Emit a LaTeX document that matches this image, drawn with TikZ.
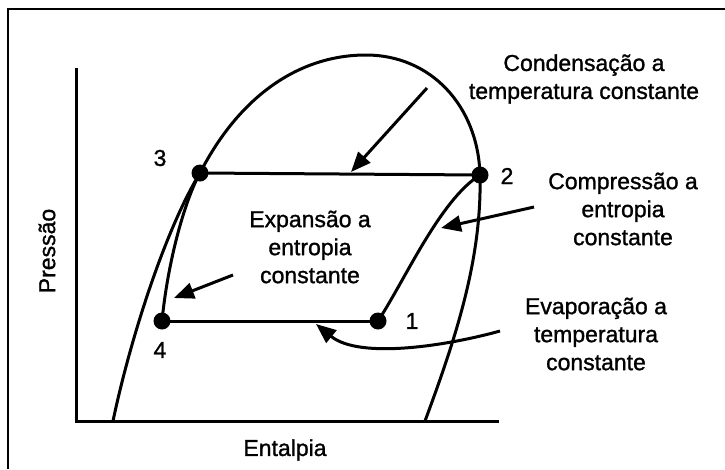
\documentclass[tikz,border=0pt]{standalone}
\usepackage{fontspec}
\setmainfont[FakeBold=1.2]{Liberation Sans}
\usetikzlibrary{arrows.meta}
\begin{document}
\begin{tikzpicture}[x=1pt,y=-1pt,
  curve/.style={line width=3pt},
  cpt/.style={circle,fill=black,inner sep=0pt,minimum size=17pt},
  lbl/.style={font=\fontsize{23}{28}\selectfont,align=center,inner sep=0pt},
  num/.style={font=\fontsize{23}{28}\selectfont,inner sep=0pt},
  arr/.style={line width=3pt,-{Triangle[length=20pt,width=16pt]}}]
\useasboundingbox (0,0) rectangle (725,469);
% frame
\draw[line width=2pt] (8,469) -- (8,9) -- (725,9);
% axes
\coordinate (ytop) at (76,68);
\coordinate (orig) at (76,421);
\coordinate (xend) at (499,421);
\draw[line width=3pt] (ytop) -- (orig) -- (xend);
% saturation dome
\coordinate (lfoot) at (113,421);
\coordinate (peak) at (366,55);
\coordinate (rfoot) at (425,421);
\node[cpt] (p3) at (200,173) {};
\node[cpt] (p2) at (480,175) {};
\node[cpt] (p1) at (378,321) {};
\node[cpt] (p4) at (162,321) {};
\draw[curve] (lfoot) .. controls (130,340) and (165,230) .. (p3.center)
  .. controls (240,95) and (300,55) .. (peak)
  .. controls (430,55) and (478,105) .. (p2.center)
  .. controls (482,260) and (455,340) .. (rfoot);
% cycle
\draw[curve] (p3.center) -- (p2.center);
\draw[curve] (p4.center) -- (p1.center);
\draw[curve] (p3.center) .. controls (185,200) and (168,260) .. (p4.center);
\draw[curve] (p1.center) .. controls (405,280) and (440,200) .. (p2.center);
% point labels
\node[num] (n3) at (160,158) {3};
\node[num] (n2) at (507,176) {2};
\node[num] (n1) at (412,321) {1};
\node[num] (n4) at (160,350) {4};
% arrows
\coordinate (c0) at (427,88);   \coordinate (c1) at (351,172);
\coordinate (k0) at (534,207);  \coordinate (k1) at (441,228);
\coordinate (e0) at (233,275);  \coordinate (e1) at (174,298);
\coordinate (v0) at (500,331);  \coordinate (v1) at (316,324);
\draw[arr] (c0) -- (c1);
\draw[arr] (k0) -- (k1);
\draw[arr] (e0) -- (e1);
\draw[arr] (v0) .. controls (450,345) and (360,360) .. (v1);
% texts
\node[lbl] (tcond) at (584,79) {Condensação a\\temperatura constante};
\node[lbl] (tcomp) at (623,209) {Compressão a\\entropia\\constante};
\node[lbl] (texp) at (310,247) {Expansão a\\entropia\\constante};
\node[lbl] (tevap) at (596,334) {Evaporação a\\temperatura\\constante};
\node[lbl,rotate=90] (tp) at (47,251) {Pressão};
\node[lbl] (th) at (285,450) {Entalpia};
\end{tikzpicture}
\end{document}
